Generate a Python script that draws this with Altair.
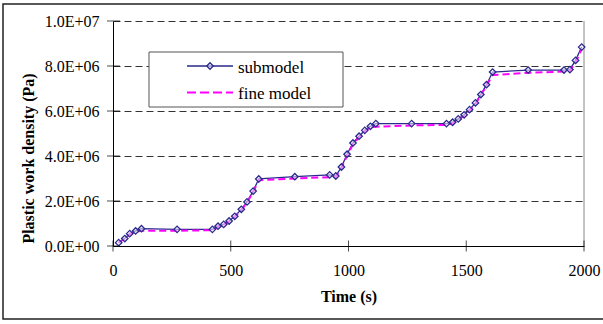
import altair as alt
import pandas as pd

# ---- data ----
time_s = [24, 50, 71, 96, 121, 272, 422, 446, 470, 493, 517, 545, 569, 595, 619,
          772, 920, 946, 970, 994, 1019, 1045, 1069, 1093, 1116, 1268, 1416, 1442,
          1466, 1491, 1514, 1539, 1562, 1586, 1612, 1763, 1915, 1940, 1964, 1990]
submodel = [0.15, 0.33, 0.55, 0.67, 0.77, 0.74, 0.74, 0.88, 0.96, 1.11, 1.32, 1.63,
            1.96, 2.44, 2.98, 3.08, 3.16, 3.11, 3.51, 4.08, 4.58, 4.88, 5.14, 5.32,
            5.44, 5.44, 5.44, 5.50, 5.65, 5.83, 6.06, 6.36, 6.73, 7.17, 7.73, 7.82,
            7.82, 7.84, 8.25, 8.84]
fine_model = [0.15, 0.33, 0.52, 0.63, 0.68, 0.68, 0.70, 0.85, 0.94, 1.09, 1.30, 1.60,
              1.93, 2.40, 2.92, 3.00, 3.06, 3.08, 3.45, 4.02, 4.52, 4.84, 5.10, 5.28,
              5.30, 5.36, 5.38, 5.45, 5.60, 5.80, 6.02, 6.32, 6.70, 7.12, 7.60, 7.70,
              7.75, 7.78, 8.15, 8.75]
x_ticks = [0, 500, 1000, 1500, 2000]
y_ticks = [0, 2e6, 4e6, 6e6, 8e6, 1e7]
series_names = ["submodel", "fine model"]

df = pd.DataFrame({
    "t": time_s,
    "sub": [v * 1e6 for v in submodel],
    "fine": [v * 1e6 for v in fine_model],
})

FONT = "Liberation Serif"
NAVY = "#2a2a8c"
MAG = "#ff00ff"

xs = alt.Scale(domain=[0, 2000], nice=False)
ys = alt.Scale(domain=[0, 1e7], nice=False)

label_expr = ("datum.value == 0 ? '0.0E+00' : "
              "format(datum.value / pow(10, floor(log(datum.value)/LN10 + 1e-9)), '.1f') + 'E+' + "
              "(floor(log(datum.value)/LN10 + 1e-9) < 10 ? '0' : '') + floor(log(datum.value)/LN10 + 1e-9)")

x_axis = alt.Axis(values=x_ticks, title="Time (s)", grid=False, ticks=False, tickSize=0,
                  format="d",
                  labelPadding=16, titlePadding=10, domainColor="black", labelFontSize=16,
                  titleFontSize=16, labelColor="black", titleColor="black", labelFlush=False,
                  labelFont=FONT, titleFont=FONT, titleFontWeight="bold")
y_axis = alt.Axis(values=y_ticks, title="Plastic work density (Pa)", grid=True,
                  gridDash=[7, 4], gridColor="#333", gridWidth=1, ticks=False, tickSize=0,
                  labelPadding=14, labelExpr=label_expr, domainColor="black",
                  labelFontSize=16, titleFontSize=16, labelColor="black", titleColor="black",
                  titleX=-85, titleY=137, titleBaseline="middle", titleAngle=-90,
                  labelFlush=False, labelFont=FONT, titleFont=FONT, titleFontWeight="bold")

base = alt.Chart(df)

sub_line = base.mark_line(color=NAVY, strokeWidth=1.3).encode(
    x=alt.X("t:Q", scale=xs, axis=x_axis),
    y=alt.Y("sub:Q", scale=ys, axis=y_axis),
)
fine_line = base.mark_line(color=MAG, strokeWidth=2, strokeDash=[7, 4]).encode(
    x=alt.X("t:Q", scale=xs), y=alt.Y("fine:Q", scale=ys)
)
sub_pts = base.mark_point(shape="diamond", size=42, color=NAVY, filled=False,
                          strokeWidth=1.3, fill="#f3eaff", fillOpacity=0.55).encode(
    x=alt.X("t:Q", scale=xs), y=alt.Y("sub:Q", scale=ys)
)

# crossing tick marks
xt = alt.Chart(pd.DataFrame({"v": x_ticks})).mark_tick(
    orient="vertical", size=11, thickness=1, color="black").encode(
    x=alt.X("v:Q", scale=xs), y=alt.value(225))
yt = alt.Chart(pd.DataFrame({"v": y_ticks})).mark_tick(
    orient="horizontal", size=13, thickness=1, color="black").encode(
    y=alt.Y("v:Q", scale=ys), x=alt.value(0.5))

# right border of plot area
one = pd.DataFrame({"a": [0]})
right_border = alt.Chart(one).mark_rule(color="#888", strokeWidth=1).encode(
    x=alt.datum(2000), y=alt.datum(0), y2=alt.datum(1e7))

# legend
leg_box = alt.Chart(one).mark_rect(fill="white", stroke="#555", strokeWidth=1).encode(
    x=alt.value(36), x2=alt.value(230), y=alt.value(31), y2=alt.value(86))
leg_l1 = alt.Chart(one).mark_rule(color=NAVY, strokeWidth=1.3).encode(
    x=alt.value(74), x2=alt.value(120), y=alt.value(45))
leg_p1 = alt.Chart(one).mark_point(shape="diamond", size=42, color=NAVY, filled=False,
                                   strokeWidth=1.3, fill="#f3eaff", fillOpacity=0.55).encode(
    x=alt.value(97), y=alt.value(45))
leg_l2 = alt.Chart(one).mark_rule(color=MAG, strokeWidth=2, strokeDash=[9, 4]).encode(
    x=alt.value(74), x2=alt.value(120), y=alt.value(71.5))
leg_t1 = alt.Chart(pd.DataFrame({"s": [series_names[0]]})).mark_text(
    align="left", baseline="alphabetic", font=FONT, fontSize=17, color="black").encode(
    x=alt.value(125), y=alt.value(51.5), text="s:N")
leg_t2 = alt.Chart(pd.DataFrame({"s": [series_names[1]]})).mark_text(
    align="left", baseline="alphabetic", font=FONT, fontSize=17, color="black").encode(
    x=alt.value(125), y=alt.value(78), text="s:N")

# outer frame
frame = alt.Chart(one).mark_rect(fill=None, stroke="#222", strokeWidth=1.5, clip=False).encode(
    x=alt.value(-110), x2=alt.value(493), y=alt.value(-17), y2=alt.value(298))

chart = alt.layer(
    right_border, sub_line, fine_line, sub_pts, xt, yt,
    leg_box, leg_l1, leg_l2, leg_p1, leg_t1, leg_t2, frame
).properties(
    width=471, height=225,
    autosize=alt.AutoSizeParams(type="none"),
    padding={"left": 113, "top": 21, "right": 19, "bottom": 78},
    background="white",
).configure_view(stroke=None)

chart.save("out.html", embed_options={"renderer": "svg", "actions": False})
